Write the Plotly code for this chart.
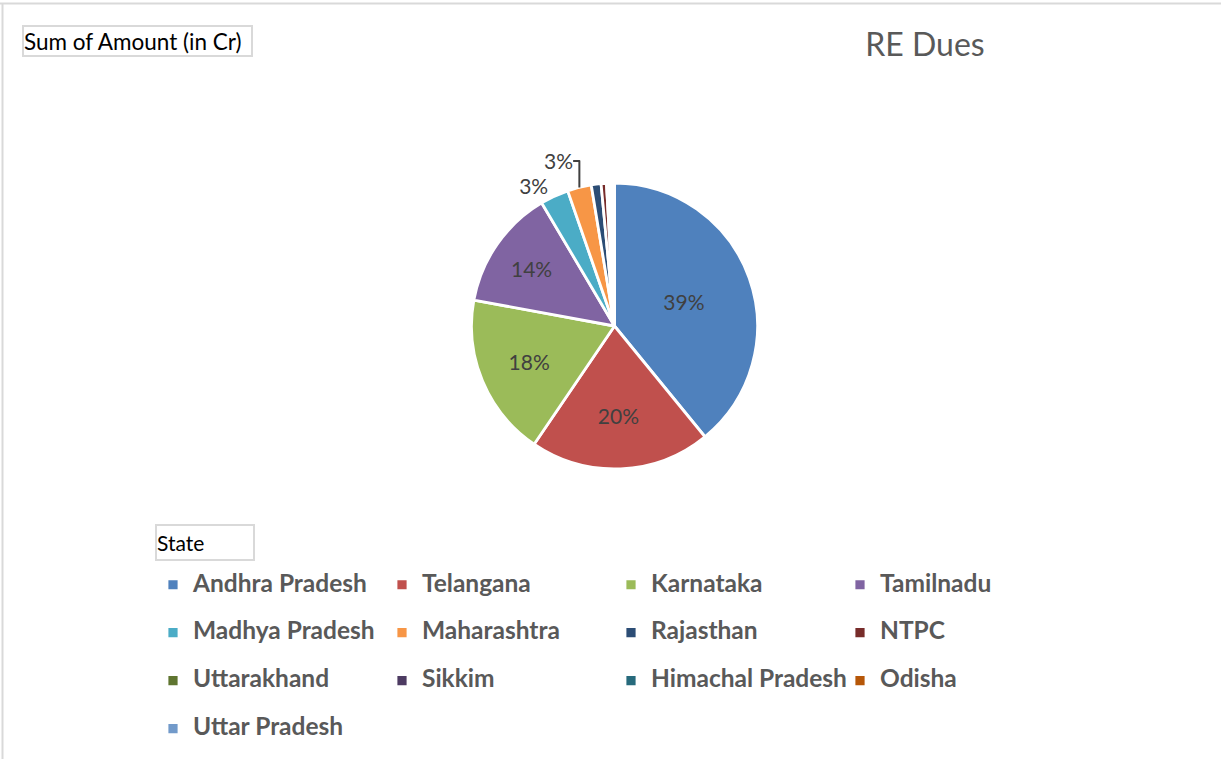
import plotly.graph_objects as go

states = ["Andhra Pradesh", "Telangana", "Karnataka", "Tamilnadu", "Madhya Pradesh",
          "Maharashtra", "Rajasthan", "NTPC", "Uttarakhand", "Sikkim",
          "Himachal Pradesh", "Odisha", "Uttar Pradesh"]
amounts = [39.1, 20.4, 18.4, 13.6, 3.2, 2.7, 1.1, 0.6, 0.3, 0.2, 0.2, 0.1, 0.1]
colors = ["#4F81BD", "#C0504D", "#9BBB59", "#8064A2", "#4BACC6", "#F79646",
          "#2C4D75", "#772C2A", "#5F7530", "#4D3B62", "#276A7C", "#B65708", "#729ACA"]

W, H = 1221, 759
ML, MR, MT, MB = 0, 250, 0, 0
PW, PH = W - ML - MR, H - MT - MB

def px(x):
    return (x - ML) / PW

def py(y):
    return (H - MB - y) / PH

total = sum(amounts)
shares = [a / total for a in amounts]
templates = ["%{percent:.0%}" if s >= 0.025 else "" for s in shares]
positions = ["inside" if s >= 0.05 else ("outside" if s >= 0.025 else "none") for s in shares]

legend_fs = 17.3
labels_disp = [f"<span style='font-size:24.5px'>{s}</span><br> " for s in states]

fig = go.Figure(go.Pie(
    labels=labels_disp,
    values=amounts,
    sort=False,
    direction="clockwise",
    rotation=0,
    marker=dict(colors=colors, line=dict(color="white", width=2.8)),
    texttemplate=templates,
    textposition=positions,
    insidetextorientation="horizontal",
    textfont=dict(family="Lato", size=21, color="#404040"),
    domain=dict(x=[px(471.5), px(757.5)], y=[py(469), py(183)]),
    hoverinfo="label+value+percent",
))

fig.update_layout(
    width=W, height=H,
    margin=dict(l=ML, r=MR, t=MT, b=MB, autoexpand=False),
    paper_bgcolor="white",
    plot_bgcolor="white",
    title=dict(text="RE Dues", x=925 / W, xref="container", xanchor="center",
               y=1 - 45 / H, yref="container", yanchor="middle",
               font=dict(family="Lato", size=32, color="#595959")),
    legend=dict(orientation="h", x=px(153), xanchor="left", y=py(567), yanchor="top",
                entrywidth=184, entrywidthmode="pixels", valign="top",
                font=dict(family="Lato", size=legend_fs, color="#595959", weight="bold"),
                bgcolor="rgba(0,0,0,0)"),
    showlegend=True,
    shapes=[
        dict(type="line", xref="paper", yref="paper", x0=px(0), x1=px(W), y0=py(3.5), y1=py(3.5),
             line=dict(color="#d9d9d9", width=2)),
        dict(type="line", xref="paper", yref="paper", x0=px(2.5), x1=px(2.5), y0=py(3), y1=py(H),
             line=dict(color="#d9d9d9", width=2)),
    ],
    annotations=[
        dict(text="Sum of Amount (in Cr)", xref="paper", yref="paper", x=px(22), y=py(25),
             xanchor="left", yanchor="top", showarrow=False, align="left",
             width=227, height=28, borderwidth=2, bordercolor="#d9d9d9", borderpad=0,
             font=dict(family="Lato", size=22.5, color="#000000")),
        dict(text="State", xref="paper", yref="paper", x=px(155), y=py(524),
             xanchor="left", yanchor="top", showarrow=False, align="left",
             width=96, height=33, borderwidth=2, bordercolor="#d9d9d9", borderpad=0,
             font=dict(family="Lato", size=21, color="#000000")),
    ],
)

fig.write_html("out.html", config={"displayModeBar": False},
               post_script="document.body.style.margin='0';")
